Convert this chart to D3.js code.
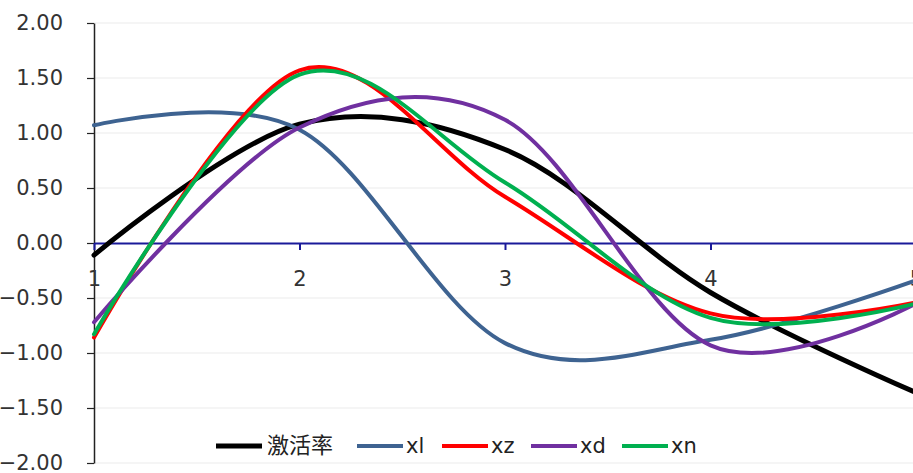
<!DOCTYPE html>
<html>
<head>
<meta charset="utf-8">
<script src="https://cdn.jsdelivr.net/npm/d3@7"></script>
<style>
  body { margin: 0; background: #fff; }
  text { font-family: "DejaVu Sans", sans-serif; }
</style>
</head>
<body>
<div id="chart"></div>
<script>
// data, one value per x = 1..5
var xValues = [1, 2, 3, 4, 5];
var seriesNames = ["激活率", "xl", "xz", "xd", "xn"];
var jihuolv = [-0.11, 1.08, 0.85, -0.45, -1.36];
var xl = [1.07, 1.03, -0.91, -0.88, -0.34];
var xz = [-0.86, 1.57, 0.42, -0.64, -0.54];
var xd = [-0.72, 1.05, 1.12, -0.93, -0.55];
var xn = [-0.83, 1.53, 0.55, -0.68, -0.55];
var yTicks = [-2, -1.5, -1, -0.5, 0, 0.5, 1, 1.5, 2];

var seriesValues = [jihuolv, xl, xz, xd, xn];
var colors = ["#000000", "#3e6391", "#ff0000", "#7030a0", "#00b050"];
var widths = [5, 4, 4, 4, 4];

var svgWidth = 913, svgHeight = 473;
var plotLeft = 94, plotRight = 916, plotTop = 23, plotBottom = 463;

var svg = d3.select("#chart").append("svg")
  .attr("width", svgWidth)
  .attr("height", svgHeight);

var xScale = d3.scaleLinear().domain([1, 5]).range([plotLeft, plotRight]);
var yScale = d3.scaleLinear().domain([-2, 2]).range([plotBottom, plotTop]);

// light grid lines
svg.append("g")
  .selectAll("line")
  .data(yTicks.filter(d => d !== 0))
  .enter()
  .append("line")
  .attr("x1", plotLeft)
  .attr("x2", svgWidth)
  .attr("y1", d => yScale(d))
  .attr("y2", d => yScale(d))
  .attr("stroke", "#ebebeb")
  .attr("stroke-width", 1);

// y axis
var yAxis = d3.axisLeft(yScale)
  .tickValues(yTicks)
  .tickFormat(d3.format(".2f"))
  .tickSize(7)
  .tickSizeOuter(0)
  .tickPadding(24);

var yg = svg.append("g")
  .attr("transform", `translate(${plotLeft},0)`)
  .call(yAxis);
yg.select(".domain").attr("stroke", "#222").attr("stroke-width", 1.5);
yg.selectAll(".tick line").attr("stroke", "#222").attr("stroke-width", 1.2);
yg.selectAll("text")
  .attr("font-size", 21)
  .attr("fill", "#333")
  .style("font-family", "DejaVu Sans, sans-serif");

// x axis along zero
var xAxis = d3.axisBottom(xScale)
  .tickValues(xValues)
  .tickFormat(d3.format("d"))
  .tickSize(7)
  .tickSizeOuter(0)
  .tickPadding(21);

var xg = svg.append("g")
  .attr("transform", `translate(0,${yScale(0)})`)
  .call(xAxis);
xg.select(".domain").attr("stroke", "#1a1a99").attr("stroke-width", 2);
xg.selectAll(".tick line").attr("stroke", "#1a1a99").attr("stroke-width", 2);
xg.selectAll("text")
  .attr("font-size", 21)
  .attr("fill", "#333")
  .style("font-family", "DejaVu Sans, sans-serif");

// smoothed lines
var line = d3.line()
  .x((d, i) => xScale(xValues[i]))
  .y(d => yScale(d))
  .curve(d3.curveCardinal.tension(0));

svg.append("g")
  .selectAll("path")
  .data(seriesValues)
  .enter()
  .append("path")
  .attr("d", d => line(d))
  .attr("fill", "none")
  .attr("stroke", (d, i) => colors[i])
  .attr("stroke-width", (d, i) => widths[i])
  .attr("stroke-linecap", "round");

// legend
var legendX = [216, 357, 442, 531, 622];
var legendY = 446;
var legend = svg.append("g")
  .selectAll("g")
  .data(seriesNames)
  .enter()
  .append("g")
  .attr("transform", (d, i) => `translate(${legendX[i]},${legendY})`);

legend.append("line")
  .attr("x1", 0)
  .attr("x2", 46)
  .attr("stroke", (d, i) => colors[i])
  .attr("stroke-width", (d, i) => widths[i]);

legend.append("text")
  .attr("x", (d, i) => i === 0 ? 51 : 49)
  .attr("y", 7)
  .attr("font-size", (d, i) => i === 0 ? 22 : 21)
  .attr("fill", "#222")
  .style("font-family", (d, i) => i === 0 ? "Noto Sans CJK SC, sans-serif" : "DejaVu Sans, sans-serif")
  .text(d => d);
</script>
</body>
</html>
